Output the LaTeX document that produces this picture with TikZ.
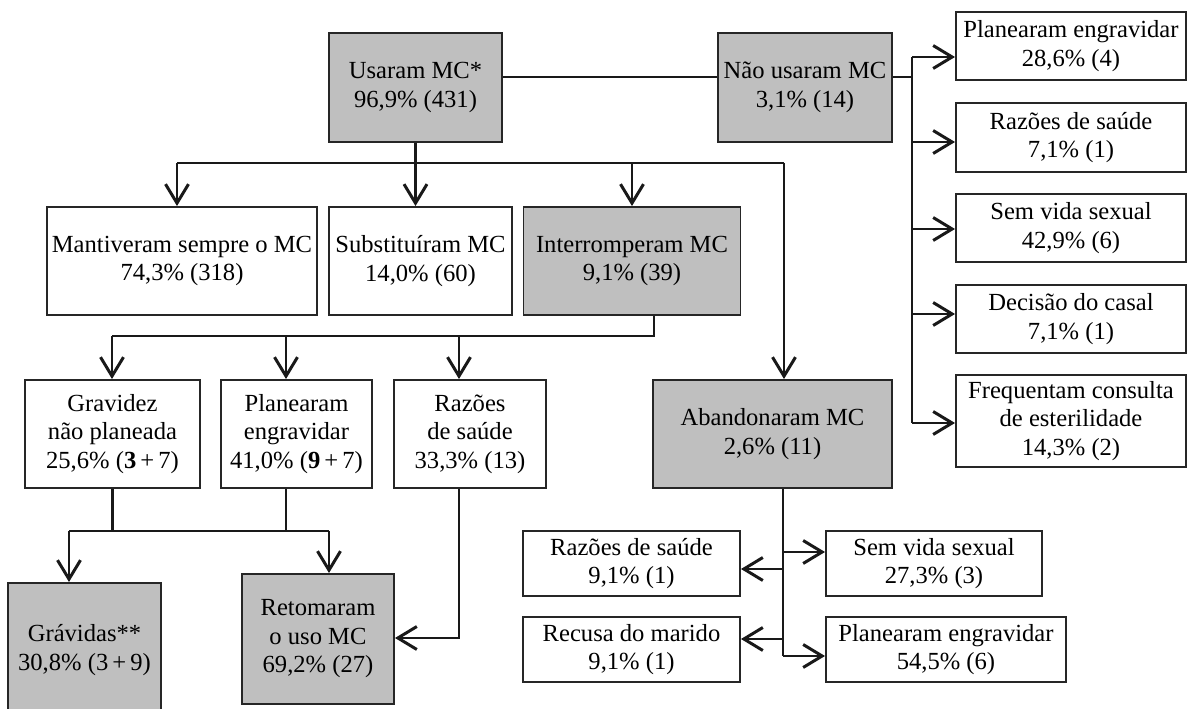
\documentclass[tikz,border=0pt]{standalone}
\usepackage{fontspec}
\setmainfont{Liberation Serif}
\usetikzlibrary{arrows.meta}

\begin{document}
\begin{tikzpicture}[x=0.02cm, y=-0.02cm,
    box/.style={draw=black!85, line width=1.1pt, fill=white, inner sep=0pt,
      align=center, font=\fontsize{14}{16.2}\selectfont},
    grey/.style={box, fill=black!25},
    size/.style 2 args={minimum width=#1*0.02cm, minimum height=#2*0.02cm},
    link/.style={draw=black!90, line width=1.7pt},
    arr/.style={link, -{Straight Barb[length=0.38cm, width=0.46cm]}}]
  %%%%% START %%%%%
  \useasboundingbox (0,0) rectangle (1188,709);

  % top row
  \node[grey, size={173}{109}] (usaram) at (415.5,87.5) {Usaram MC*\\96,9\% (431)};
  \node[grey, size={174}{109}] (naousaram) at (805,87.5) {Não usaram MC\\3,1\% (14)};

  % why they did not use it
  \node[box, size={230}{68}] (planA) at (1071,46) {Planearam engravidar\\28,6\% (4)};
  \node[box, size={230}{69}] (saudeA) at (1071,137.5) {Razões de saúde\\7,1\% (1)};
  \node[box, size={230}{68}] (sexoA) at (1071,228) {Sem vida sexual\\42,9\% (6)};
  \node[box, size={230}{68}] (casal) at (1071,319) {Decisão do casal\\7,1\% (1)};
  \node[box, size={230}{92}] (consulta) at (1071,421) {Frequentam consulta\\de esterilidade\\14,3\% (2)};

  % second row
  \node[box, size={270}{108}] (mantiveram) at (182,261) {Mantiveram sempre o MC\\74,3\% (318)};
  \node[box, size={183}{108}] (substituiram) at (420.5,261) {Substituíram MC\\14,0\% (60)};
  \node[grey, size={217}{108}] (interromperam) at (632,261) {Interromperam MC\\9,1\% (39)};
  \node[grey, size={239}{108}] (abandonaram) at (772.5,434) {Abandonaram MC\\2,6\% (11)};

  % third row
  \node[box, size={175}{108}] (gravidez) at (112.5,434) {Gravidez\\não planeada\\25,6\% (\textbf{3}\,+\,7)};
  \node[box, size={151}{108}] (planB) at (296.5,434) {Planearam\\engravidar\\41,0\% (\textbf{9}\,+\,7)};
  \node[box, size={152}{108}] (saudeB) at (470,434) {Razões\\de saúde\\33,3\% (13)};

  % bottom
  \node[grey, size={153}{134}] (gravidas) at (84.5,650) {Grávidas**\\30,8\% (3\,+\,9)};
  \node[grey, size={152}{130}] (retomaram) at (318,639) {Retomaram\\o uso MC\\69,2\% (27)};
  \node[box, size={217}{65}] (saudeC) at (631.5,563.5) {Razões de saúde\\9,1\% (1)};
  \node[box, size={217}{65}] (recusa) at (631.5,649.5) {Recusa do marido\\9,1\% (1)};
  \node[box, size={216}{65}] (sexoC) at (934,563.5) {Sem vida sexual\\27,3\% (3)};
  \node[box, size={240}{65}] (planC) at (946,649.5) {Planearam engravidar\\54,5\% (6)};

  % bends of the connectors
  \coordinate (topbus) at (0,77);
  \coordinate (rbusT) at (912,57);
  \coordinate (rbusB) at (912,423);
  \coordinate (busL) at (177,163);
  \coordinate (busR) at (784,163);
  \coordinate (bus2R) at (654,336);
  \coordinate (bus2L) at (112,336);
  \coordinate (drop2) at (286,336);
  \coordinate (drop3) at (459,336);
  \coordinate (joinL) at (69,531);
  \coordinate (joinM) at (286,531);
  \coordinate (joinR) at (329,531);
  \coordinate (back) at (459,638);
  \coordinate (stem) at (783,656);
  \coordinate (brA) at (783,552);
  \coordinate (brB) at (783,569);
  \coordinate (brC) at (783,639);

  % used / not used
  \draw[link] (usaram.east |- topbus) -- (naousaram.west |- topbus);
  \draw[link] (naousaram.east |- topbus) -- (rbusT |- topbus);
  \draw[link] (rbusT) -- (rbusB);
  \foreach \n/\y in {planA/57, saudeA/142, sexoA/229, casal/314, consulta/423} {
    \coordinate (tmp) at (912,\y);
    \draw[arr] (tmp) -- (tmp -| \n.west);
  }

  % what the users did
  \draw[link] (busL) -- (busR);
  \draw[arr] (busL) -- (busL |- mantiveram.north);
  \draw[arr] (usaram.south) -- (usaram.south |- substituiram.north);
  \draw[arr] (busL -| interromperam.north) -- (interromperam.north);
  \draw[arr] (busR) -- (busR |- abandonaram.north);

  % why they stopped
  \draw[link] (bus2R |- interromperam.south) -- (bus2R) -- (bus2L);
  \draw[arr] (bus2L) -- (bus2L |- gravidez.north);
  \draw[arr] (drop2) -- (drop2 |- planB.north);
  \draw[arr] (drop3) -- (drop3 |- saudeB.north);

  % afterwards
  \draw[link] (gravidez.south) -- (gravidez.south |- joinL);
  \draw[link] (joinM |- planB.south) -- (joinM);
  \draw[link] (joinL) -- (joinR);
  \draw[arr] (joinL) -- (joinL |- gravidas.north);
  \draw[arr] (joinR) -- (joinR |- retomaram.north);
  \draw[arr] (back |- saudeB.south) -- (back) -- (back -| retomaram.east);

  % why they gave up
  \draw[link] (stem |- abandonaram.south) -- (stem);
  \draw[arr] (brA) -- (brA -| sexoC.west);
  \draw[arr] (brB) -- (brB -| saudeC.east);
  \draw[arr] (brC) -- (brC -| recusa.east);
  \draw[arr] (stem) -- (stem -| planC.west);
  %%%%% END %%%%%
\end{tikzpicture}
\end{document}
